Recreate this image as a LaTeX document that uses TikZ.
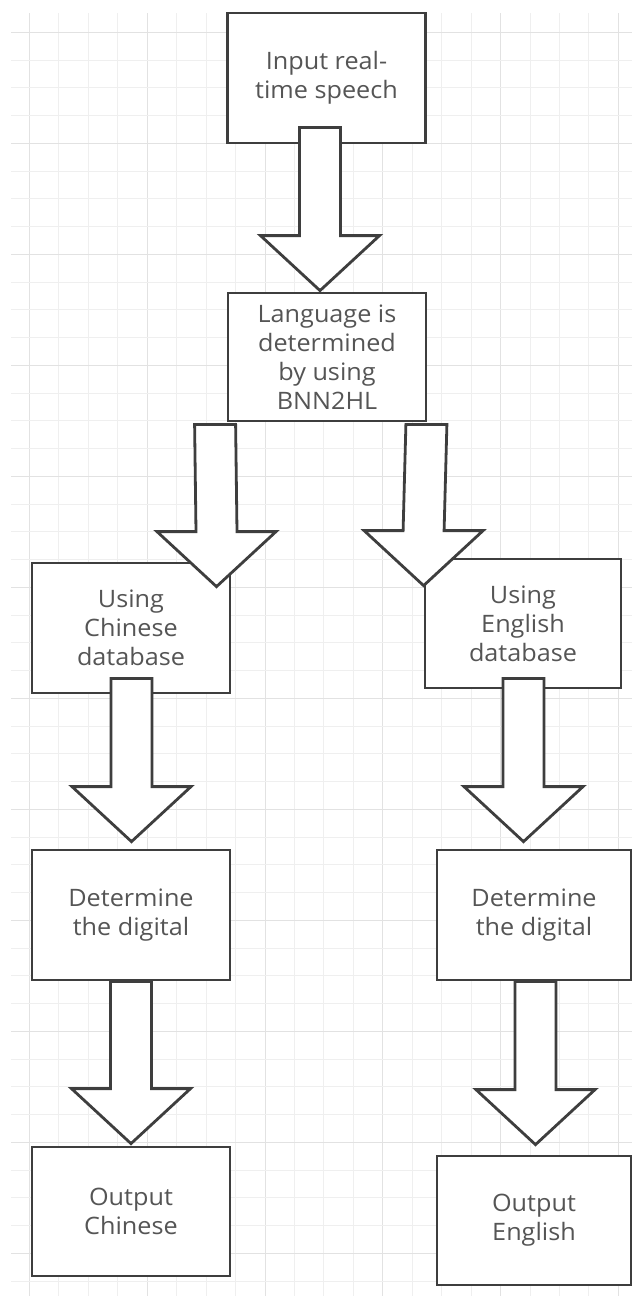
\documentclass[tikz,border=0pt]{standalone}
\usepackage{fontspec}
\setmainfont[FakeStretch=1.05]{Open Sans}
\usetikzlibrary{calc}
\definecolor{gridminor}{HTML}{EFEFEF}
\definecolor{gridmajor}{HTML}{E2E2E2}
\definecolor{edge}{HTML}{3E3E3E}
\definecolor{label}{HTML}{555555}
\tikzset{
  stepbox/.style={draw=edge, line width=2.8pt, fill=white, inner sep=0pt,
    minimum width=198pt, minimum height=130pt, align=center,
    text=label, font=\fontsize{24}{29}\selectfont},
  arrowbody/.style={draw=edge, line width=2.8pt, fill=white, line join=miter}
}
% block arrow: #1 = top of shaft, #2 = tip
\newcommand\blockarrow[2]{%
  \draw[arrowbody] ($(#1)+(-20.5,0)$) -- ($(#2)+(-20.5,-55)$) -- ($(#2)+(-59.5,-55)$)
    -- (#2) -- ($(#2)+(59.5,-55)$) -- ($(#2)+(20.5,-55)$) -- ($(#1)+(20.5,0)$) -- cycle;}
\begin{document}
\begin{tikzpicture}[x=1pt,y=-1pt]
\useasboundingbox (0,0) rectangle (632,1296);
\fill[white] (0,0) rectangle (632,1296);
% grid
\foreach \k in {0,...,20}{
  \pgfmathsetmacro\gx{29.4+29.45*\k}
  \pgfmathtruncatemacro\ismaj{mod(\k,4)==0}
  \ifnum\ismaj=1 \draw[gridmajor, line width=1pt] (\gx,13) -- (\gx,1296);
  \else \draw[gridminor, line width=1pt] (\gx,13) -- (\gx,1296); \fi
}
\foreach \j in {0,...,45}{
  \pgfmathsetmacro\gy{32.3+27.75*\j}
  \pgfmathtruncatemacro\ismaj{mod(\j,4)==0}
  \ifnum\ismaj=1 \draw[gridmajor, line width=1pt] (11,\gy) -- (632,\gy);
  \else \draw[gridminor, line width=1pt] (11,\gy) -- (632,\gy); \fi
}
% process boxes
\node[stepbox] (input) at (326.5,78) {Input real-\\time speech};
\node[stepbox, minimum height=128pt] (lang) at (327,357) {Language is\\determined\\by using\\BNN2HL};
\node[stepbox] (cndb) at (131,628) {Using\\Chinese\\database};
\node[stepbox, minimum width=196pt, minimum height=129pt] (endb) at (523,623.5) {Using\\English\\database};
\node[stepbox] (cndig) at (131,915) {Determine\\the digital};
\node[stepbox, minimum width=194pt] (endig) at (534,915) {Determine\\the digital};
\node[stepbox, minimum height=129pt] (cnout) at (131,1211.5) {Output\\Chinese};
\node[stepbox, minimum width=194pt, minimum height=129pt] (enout) at (534,1220.5) {Output\\English};
% arrow end points
\coordinate (s1) at ($(input.south)+(-6.5,-17)$);
\coordinate (t1) at ($(lang.north)+(-7,-1)$);
\coordinate (s2) at ($(lang.south west)+(-11.5,2)$);
\coordinate (t2) at ($(cndb.north)+(85.5,25)$);
\coordinate (s3) at ($(lang.south east)+(-1,2)$);
\coordinate (t3) at ($(endb.north west)+(0,28)$);
\coordinate (s4) at ($(cndb.south)+(0.5,-16)$);
\coordinate (t4) at ($(cndig.north)+(0.5,-7)$);
\coordinate (s5) at ($(endb.south)+(0.5,-11)$);
\coordinate (t5) at ($(endig.north)+(-10.5,-7)$);
\coordinate (s6) at (cndig.south);
\coordinate (t6) at ($(cnout.north)+(0,-2)$);
\coordinate (s7) at ($(endig.south)+(1.5,0)$);
\coordinate (t7) at ($(enout.north)+(1.5,-10)$);
% connectors
\blockarrow{s1}{t1}
\blockarrow{s2}{t2}
\blockarrow{s3}{t3}
\blockarrow{s4}{t4}
\blockarrow{s5}{t5}
\blockarrow{s6}{t6}
\blockarrow{s7}{t7}
\end{tikzpicture}
\end{document}
